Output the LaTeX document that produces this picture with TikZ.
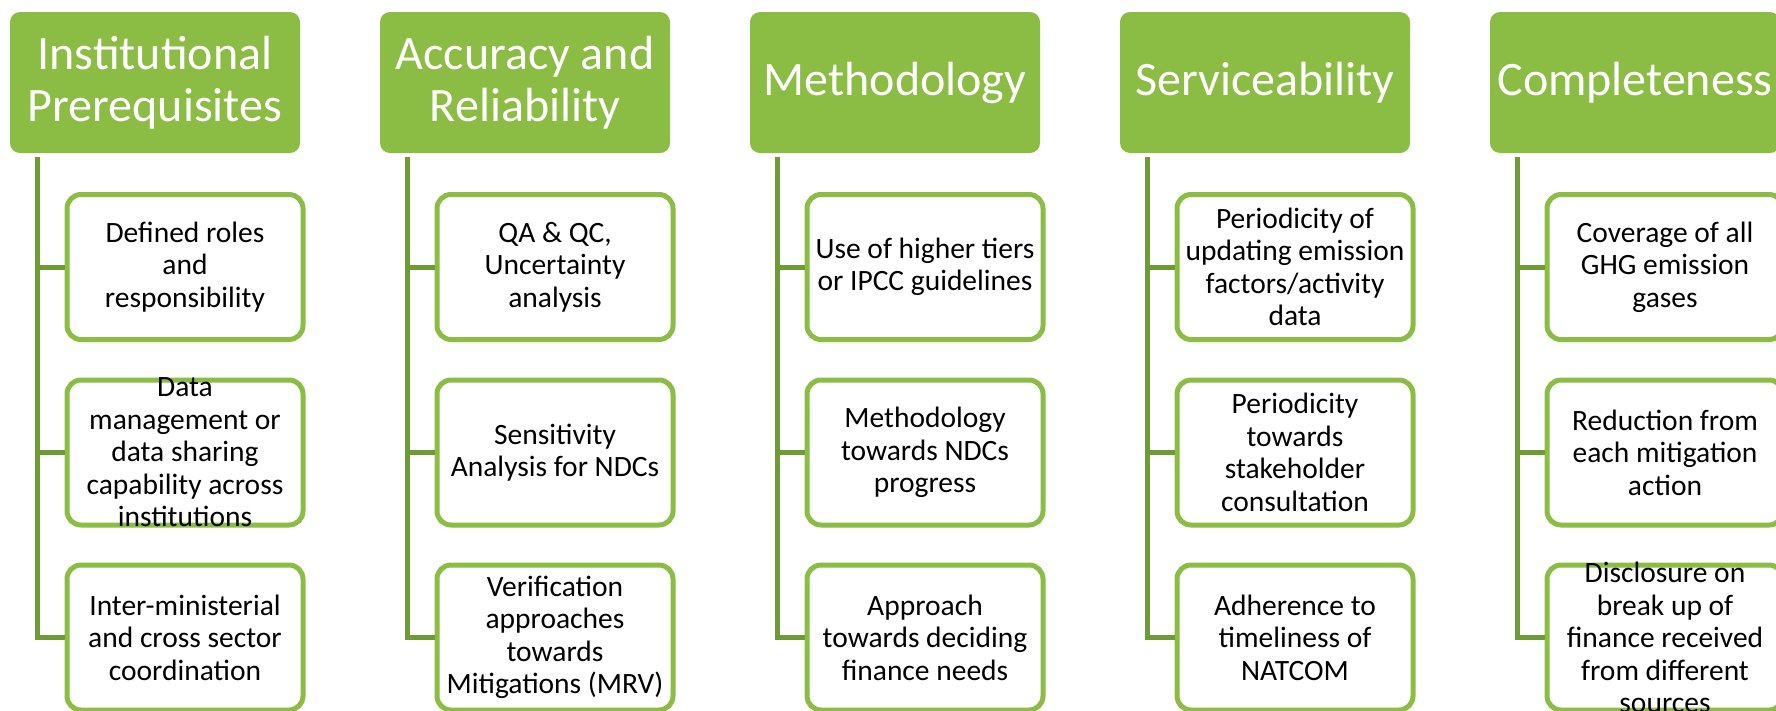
\documentclass[tikz,border=0pt]{standalone}
\usepackage{fontspec}
\setmainfont{Carlito}
\usetikzlibrary{shapes,positioning}
\definecolor{leaf}{HTML}{8BBC43}
\definecolor{stem}{HTML}{6E9B36}
\tikzstyle{head} = [fill=leaf, rectangle, rounded corners=10pt,
    minimum height=141pt, minimum width=290pt, text=white, align=center,
    font=\fontsize{48}{52}\selectfont]
\tikzstyle{item} = [draw=leaf, fill=white, rectangle, rounded corners=14pt,
    line width=5pt, minimum height=145pt, minimum width=236pt,
    inner ysep=-20pt, align=center, font=\fontsize{29.5}{32.5}\selectfont]
\tikzstyle{link} = [draw=stem, line width=5pt]

\begin{document}
\begin{tikzpicture}[x=1pt,y=-1pt]
\useasboundingbox (0,0) rectangle (1776,710);

% top of each stem
\coordinate (t1) at (37,157);
\coordinate (t2) at (407,157);
\coordinate (t3) at (777,157);
\coordinate (t4) at (1147,157);
\coordinate (t5) at (1517,157);

\node[head, name=h1] at (155,82.5) {Institutional\\Prerequisites};
\node[head, name=h2] at (525,82.5) {Accuracy and\\Reliability};
\node[head, name=h3] at (895,82.5) {Methodology};
\node[head, name=h4] at (1265,82.5) {Serviceability};
\node[head, name=h5] at (1635,82.5) {Completeness};

\node[item, name=c11] at (185,267) {Defined roles\\and\\responsibility};
\node[item, name=c12] at (185,452.5) {Data\\management or\\data sharing\\capability across\\institutions};
\node[item, name=c13] at (185,637.5) {Inter-ministerial\\and cross sector\\coordination};

\node[item, name=c21] at (555,267) {QA \& QC,\\Uncertainty\\analysis};
\node[item, name=c22] at (555,452.5) {Sensitivity\\Analysis for NDCs};
\node[item, name=c23] at (555,637.5) {Verification\\approaches\\towards\\Mitigations (MRV)};

\node[item, name=c31] at (925,267) {Use of higher tiers\\or IPCC guidelines};
\node[item, name=c32] at (925,452.5) {Methodology\\towards NDCs\\progress};
\node[item, name=c33] at (925,637.5) {Approach\\towards deciding\\finance needs};

\node[item, name=c41] at (1295,267) {Periodicity of\\updating emission\\factors/activity\\data};
\node[item, name=c42] at (1295,452.5) {Periodicity\\towards\\stakeholder\\consultation};
\node[item, name=c43] at (1295,637.5) {Adherence to\\timeliness of\\NATCOM};

\node[item, name=c51] at (1665,267) {Coverage of all\\GHG emission\\gases};
\node[item, name=c52] at (1665,452.5) {Reduction from\\each mitigation\\action};
\node[item, name=c53] at (1665,637.5) {Disclosure on\\break up of\\finance received\\from different\\sources};

% stems and branches
\foreach \i in {1,...,5}{
  \draw[link] (t\i) |- (c\i3.west);
  \draw[link] (t\i |- c\i1.west) -- (c\i1.west);
  \draw[link] (t\i |- c\i2.west) -- (c\i2.west);
}

\end{tikzpicture}
\end{document}
